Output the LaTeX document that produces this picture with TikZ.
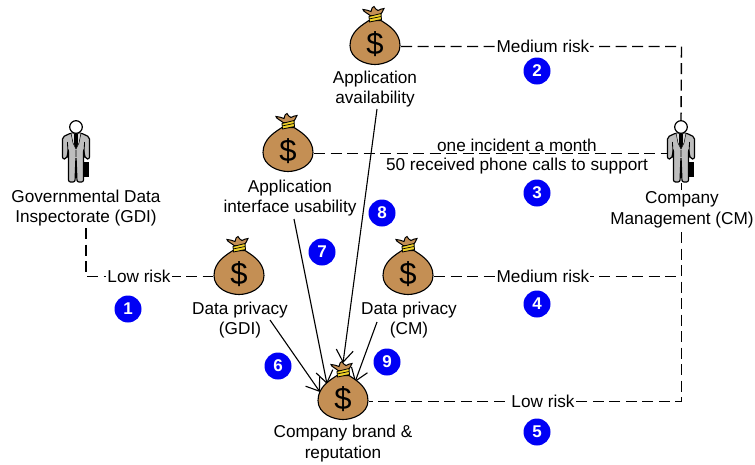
\documentclass[tikz,border=0pt]{standalone}
\usepackage{fontspec}
\setmainfont{Liberation Sans}
\usetikzlibrary{arrows.meta}
\definecolor{bagc}{RGB}{196,143,84}
\definecolor{tie}{RGB}{240,210,40}
\definecolor{numb}{RGB}{0,0,245}
\definecolor{suit}{RGB}{190,190,190}
\tikzset{
 x=1pt,y=-1pt,
 txt/.style={font=\fontsize{17.2}{20.5}\selectfont,align=center,inner sep=0pt},
 lab/.style={txt,fill=white,inner xsep=1pt,inner ysep=1pt},
 num/.style={circle,fill=numb,text=white,minimum size=27pt,inner sep=0pt,font=\fontsize{17}{17}\selectfont\bfseries},
 bagn/.style={inner sep=0pt,minimum width=52pt,minimum height=47pt},
 mann/.style={inner sep=0pt,minimum width=29pt,minimum height=64pt},
 dashline/.style={draw=black,line width=1.4pt,dash pattern=on 11pt off 5.5pt},
 arr/.style={draw=black,line width=1.1pt,-{Straight Barb[length=12pt,width=17pt,line width=1.1pt]}},
 bag/.pic={
  \begin{scope}[yshift=3pt]
  \draw[fill=bagc,line width=1.1pt] (-6,-23) .. controls (-12,-19) and (-25,-12) .. (-25,2)
     .. controls (-25,15) and (-10,21) .. (0,21)
     .. controls (10,21) and (25,15) .. (25,2)
     .. controls (25,-12) and (12,-19) .. (6,-23) -- cycle;
  \draw[fill=bagc,line width=1pt] (-5,-28) .. controls (-7,-30) and (-12,-32) .. (-12,-34)
     .. controls (-9,-34) and (-7,-33) .. (-4,-32) .. controls (-4,-35) and (-2,-37) .. (-1,-37)
     .. controls (0,-35) and (1,-34) .. (3,-33) .. controls (5,-34) and (7,-35) .. (9,-35)
     .. controls (8,-32) and (6,-30) .. (5,-28) -- cycle;
  \draw[fill=tie,line width=.8pt] (-6,-27) -- (6,-30) -- (6.5,-24) -- (-5.5,-21.5) -- cycle;
  \draw[line width=.7pt] (-6,-24.5) -- (6,-27);
  \node[inner sep=0pt,font=\fontsize{31}{31}\selectfont] at (0,1) {\$};
  \end{scope}
 },
 man/.pic={
  \fill[black] (8,10) rectangle (13,25);
  \draw[fill=suit,line width=1.2pt,rounded corners=2pt] (-5,-19) -- (5,-19) -- (13.5,-15) -- (13.5,7) -- (9.5,7) -- (7.5,-2) -- (7.5,30) -- (1,30) -- (0,5) -- (-1,30) -- (-7.5,30) -- (-7.5,-2) -- (-9.5,7) -- (-13.5,7) -- (-13.5,-15) -- cycle;
  \draw[line width=.8pt] (-8.5,-10) -- (-8,5) (8.5,-10) -- (8,5) (0,5) -- (0,-2);
  \draw[line width=.5pt,fill=white!85!black] (-5,-19) -- (-3,-9) -- (0,-3) -- (3,-9) -- (5,-19) -- (2,-19) -- (0,-10) -- (-2,-19) -- cycle;
  \fill[black] (-1.8,-18) -- (1.8,-18) -- (2,-8) -- (0,-3) -- (-2,-8) -- cycle;
  \draw[fill=white,line width=1.2pt] (0,-25) circle (6.3);
 }
}
\begin{document}
\begin{tikzpicture}
\useasboundingbox (0,0) rectangle (755,464);
\node[bagn] (availbag) at (375,46.5) {};
\node[bagn] (usabag) at (288,153.5) {};
\node[bagn] (gdibag) at (239,276.5) {};
\node[bagn] (cmbag) at (408,276.5) {};
\node[bagn] (brandbag) at (343,401.5) {};
\node[mann] (gdiman) at (76,152) {};
\node[mann] (cmman) at (681,152) {};
\coordinate (c1) at (681.5,46.5);
\coordinate (c2) at (86,276.5);
\coordinate (c4) at (681.5,276.5);
\coordinate (c5) at (681.5,401.5);
\coordinate (c6) at (681.5,232);
\coordinate (c7) at (86,228);
\coordinate (c8) at (681.5,183);
\coordinate (c9) at (681.5,190);
\coordinate (c10) at (667,153.5);
\node[txt] (availt) at (375,89) {Application\\availability};
\node[txt] (usat) at (290,198) {Application\\interface usability};
\node[txt] (gdit) at (86,208) {Governmental Data\\Inspectorate (GDI)};
\node[txt] (cmt) at (682,210) {Company\\Management (CM)};
\node[txt] (gdibt) at (240,320) {Data privacy\\(GDI)};
\node[txt] (cmbt) at (409,320) {Data privacy\\(CM)};
\node[txt] (brandt) at (343,443.5) {Company brand \&\\reputation};
\draw[dashline] (availbag.east) -- (c1) -- (cmman.north);
\draw[dashline] (usabag.east) -- (c10);
\draw[dashline] (c7) -- (c2) -- (gdibag.west);
\draw[dashline] (cmbag.east) -- (c4);
\draw[dashline] (c6) -- (c5) -- (brandbag.east);
\draw[dashline] (c8) -- (c9);
\node[lab] (l1) at (543,46) {Medium risk};
\node[lab] (l2) at (139,276.5) {Low risk};
\node[lab] (l3) at (543,276) {Medium risk};
\node[lab] (l4) at (543,401) {Low risk};
\node[txt] (l5) at (517,145) {one incident a month};
\node[txt] (l6) at (517,166) {50 received phone calls to support};
\coordinate (a1) at (377,109);
\coordinate (a2) at (294,219);
\coordinate (a3) at (270,320);
\coordinate (a4) at (377,322);
\coordinate (b1) at (343,363);
\coordinate (b2) at (327,384);
\coordinate (b3) at (320,392);
\coordinate (b4) at (355,382);
\draw[arr] (a1) -- (b1);
\draw[arr] (a2) -- (b2);
\draw[arr] (a3) -- (b3);
\draw[arr] (a4) -- (b4);
\pic at (availbag.center) {bag};
\pic at (usabag.center) {bag};
\pic at (gdibag.center) {bag};
\pic at (cmbag.center) {bag};
\pic at (brandbag.center) {bag};
\pic at (gdiman.center) {man};
\pic at (cmman.center) {man};
\node[num] (n1) at (128,309) {1};
\node[num] (n2) at (537,71) {2};
\node[num] (n3) at (537,193) {3};
\node[num] (n4) at (537,304) {4};
\node[num] (n5) at (537,432) {5};
\node[num] (n6) at (278,366) {6};
\node[num] (n7) at (322,252) {7};
\node[num] (n8) at (382,213) {8};
\node[num] (n9) at (387,362) {9};
\end{tikzpicture}
\end{document}
